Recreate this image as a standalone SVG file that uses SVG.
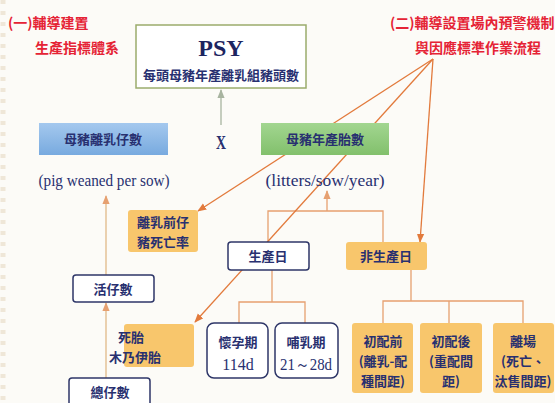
<svg xmlns="http://www.w3.org/2000/svg" width="555" height="403" viewBox="0 0 555 403">
<defs>
<style>
.cn{font-family:"Noto Sans CJK TC","Noto Sans CJK SC",sans-serif;font-weight:bold;fill:#283070;font-size:13px;text-anchor:middle}
.red{font-family:"Noto Sans CJK TC","Noto Sans CJK SC",sans-serif;font-weight:bold;fill:#e52335;font-size:14px}
.en{font-family:"Liberation Serif",serif;fill:#283070;font-size:16px;text-anchor:middle}
.wbox{fill:#ffffff;stroke:#2e3668;stroke-width:1.5}
.obox{fill:#f8c66c}
.tree{fill:none;stroke:#e6a070;stroke-width:1.3}
.warn{fill:none;stroke:#e27a3c;stroke-width:1.3}
</style>
<linearGradient id="gb" x1="0" y1="0" x2="0" y2="1"><stop offset="0" stop-color="#a4c8ee"/><stop offset="1" stop-color="#78aadf"/></linearGradient>
<linearGradient id="gg" x1="0" y1="0" x2="0" y2="1"><stop offset="0" stop-color="#a2d690"/><stop offset="1" stop-color="#82c06c"/></linearGradient>
<marker id="ao" viewBox="0 0 10 10" refX="9" refY="5" markerWidth="7" markerHeight="7" orient="auto-start-reverse"><path d="M0,1 L10,5 L0,9 z" fill="#e27a3c"/></marker>
<marker id="at" viewBox="0 0 10 10" refX="9" refY="5" markerWidth="7" markerHeight="7" orient="auto-start-reverse"><path d="M0,1 L10,5 L0,9 z" fill="#e6a070"/></marker>
<marker id="ag" viewBox="0 0 10 10" refX="9" refY="5" markerWidth="7" markerHeight="7" orient="auto-start-reverse"><path d="M0,1 L10,5 L0,9 z" fill="#a8b4a0"/></marker>
</defs>
<rect x="0" y="0" width="555" height="403" fill="#fcfbf7"/>
<line x1="3" y1="0" x2="3" y2="403" stroke="#efe7d8" stroke-width="5" stroke-dasharray="4 7"/>

<g id="title1">
<text class="red" x="8" y="28">(一)輔導建置</text>
<text class="red" x="35" y="53">生產指標體系</text>
</g>
<g id="title2">
<text class="red" x="390" y="28">(二)輔導設置場內預警機制</text>
<text class="red" x="415" y="53">與因應標準作業流程</text>
</g>

<g id="connectors">
<line x1="221" y1="125" x2="221" y2="90" stroke="#a8b4a0" stroke-width="1.3" marker-end="url(#ag)"/>
<line x1="106" y1="275" x2="106" y2="196" stroke="#e0b888" stroke-width="1.3" marker-end="url(#at)"/>
<line x1="106" y1="378" x2="106" y2="303" stroke="#e0b888" stroke-width="1.3" marker-end="url(#at)"/>
<path class="tree" d="M268,242 V211 H383 V242"/>
<line class="tree" x1="327" y1="211" x2="327" y2="191" marker-end="url(#at)"/>
<path class="tree" d="M272,270 V302 M239,323 V302 H305 V323"/>
<path class="tree" d="M411,270 V301 M383,323 V301 H523 V323 M449,301 V323"/>
<line class="warn" x1="433" y1="59" x2="198" y2="211" marker-end="url(#ao)"/>
<line class="warn" x1="433" y1="59" x2="195" y2="322" marker-end="url(#ao)"/>
<line class="warn" x1="433" y1="59" x2="420" y2="242" marker-end="url(#ao)"/>
</g>

<g id="psy">
<rect x="136" y="25" width="170" height="63" fill="#ffffff" stroke="#9aac6c" stroke-width="1.5"/>
<text x="221" y="56" font-family="Liberation Serif,serif" font-weight="bold" font-size="24" fill="#1c2460" text-anchor="middle">PSY</text>
<text class="cn" x="221" y="80">每頭母豬年產離乳組豬頭數</text>
</g>
<g id="x">
<text x="221" y="149" font-family="Liberation Serif,serif" font-weight="bold" font-size="19" fill="#283070" text-anchor="middle" textLength="10" lengthAdjust="spacingAndGlyphs">X</text>
</g>
<g id="weaned">
<rect x="39" y="123" width="129" height="32" fill="url(#gb)"/>
<text class="cn" x="103" y="144">母豬離乳仔數</text>
<text class="en" x="104" y="186" textLength="131" lengthAdjust="spacingAndGlyphs">(pig weaned per sow)</text>
</g>
<g id="litters">
<rect x="261" y="123" width="128" height="32" fill="url(#gg)"/>
<text class="cn" x="325" y="144">母豬年產胎數</text>
<text class="en" x="325" y="186" textLength="119" lengthAdjust="spacingAndGlyphs">(litters/sow/year)</text>
</g>
<g id="premort">
<rect class="obox" x="128" y="210" width="70" height="42" rx="3"/>
<text class="cn" x="163" y="227">離乳前仔</text>
<text class="cn" x="163" y="247">豬死亡率</text>
</g>
<g id="live">
<rect class="wbox" x="73" y="275" width="81" height="27" rx="3"/>
<text class="cn" x="113" y="294">活仔數</text>
</g>
<g id="dead">
<rect class="obox" x="124" y="324" width="70" height="43" rx="3"/>
<text class="cn" x="131" y="342" text-anchor="start">死胎</text>
<text class="cn" x="135" y="362" text-anchor="start">木乃伊胎</text>
</g>
<g id="total">
<rect class="wbox" x="69" y="378" width="81" height="32" rx="3"/>
<text class="cn" x="110" y="397">總仔數</text>
</g>
<g id="prod">
<rect class="wbox" x="228" y="242" width="81" height="28" rx="3"/>
<text class="cn" x="268" y="261">生產日</text>
</g>
<g id="nonprod">
<rect class="obox" x="346" y="242" width="81" height="28" rx="3"/>
<text class="cn" x="386" y="261">非生產日</text>
</g>
<g id="gest">
<rect class="wbox" x="207" y="323" width="61" height="55" rx="7"/>
<text class="cn" x="238" y="347">懷孕期</text>
<text x="238" y="370" font-family="Liberation Serif,serif" font-size="16" fill="#283070" text-anchor="middle">114d</text>
</g>
<g id="lact">
<rect class="wbox" x="275" y="323" width="63" height="55" rx="7"/>
<text class="cn" x="306" y="347">哺乳期</text>
<text x="306" y="370" font-family="Liberation Serif,serif" font-size="16" fill="#283070" text-anchor="middle" textLength="52" lengthAdjust="spacingAndGlyphs">21～28d</text>
</g>
<g id="premate">
<rect class="obox" x="352" y="323" width="61" height="70" rx="3"/>
<text class="cn" x="383" y="346">初配前</text>
<text class="cn" x="383" y="366">(離乳-配</text>
<text class="cn" x="383" y="386">種間距)</text>
</g>
<g id="postmate">
<rect class="obox" x="420" y="323" width="62" height="70" rx="3"/>
<text class="cn" x="451" y="346">初配後</text>
<text class="cn" x="451" y="366">(重配間</text>
<text class="cn" x="451" y="386">距)</text>
</g>
<g id="leave">
<rect class="obox" x="493" y="323" width="61" height="70" rx="3"/>
<text class="cn" x="523" y="346">離場</text>
<text class="cn" x="523" y="366">(死亡、</text>
<text class="cn" x="523" y="386">汰售間距)</text>
</g>
</svg>
